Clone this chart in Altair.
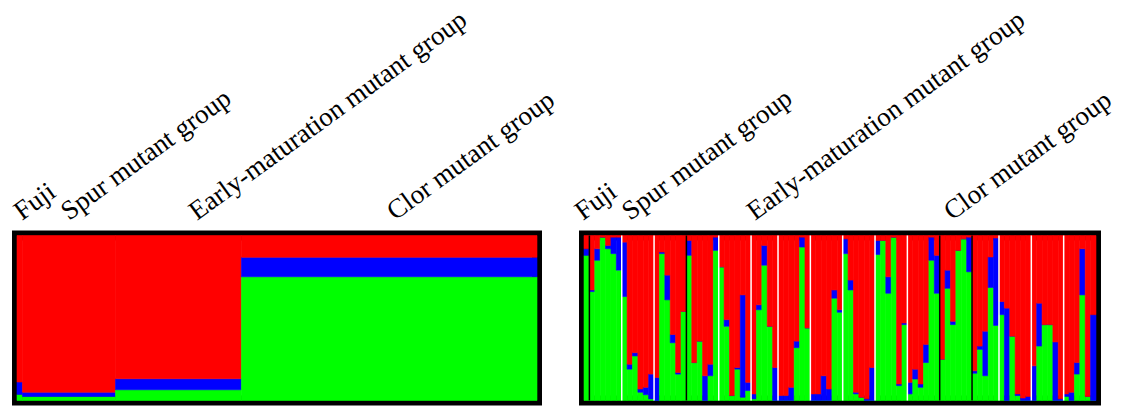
import altair as alt
import pandas as pd

# ---------------- data ----------------
groups = ["Fuji", "Spur mutant group", "Early-maturation mutant group", "Clor mutant group"]
group_sizes = [1, 17, 23, 54]
group_red = [0.888, 0.950, 0.868, 0.132]
group_blue = [0.075, 0.026, 0.067, 0.118]
group_green = [0.037, 0.024, 0.065, 0.750]

ind_red = [0.08, 0.33, 0.08, 0.01, 0.06, 0.01, 0.01, 0.04, 0.78, 0.71,
           0.93, 0.92, 0.84, 0.86, 0.10, 0.24, 0.60, 0.83, 0.46, 0.03,
           0.77, 0.64, 0.85, 0.78, 0.01, 0.19, 0.51, 0.97, 0.80, 0.36,
           0.89, 0.96, 0.42, 0.06, 0.55, 0.80, 0.97, 0.97, 0.92, 0.64,
           0.01, 0.56, 0.96, 0.96, 0.85, 0.93, 0.33, 0.45, 0.02, 0.27,
           0.95, 0.98, 0.99, 0.80, 0.03, 0.03, 0.25, 0.01, 0.90, 0.53,
           0.89, 0.81, 0.90, 0.66, 0.01, 0.12, 0.75, 0.21, 0.52, 0.09,
           0.02, 0.01, 0.82, 0.67, 0.58, 0.13, 0.015, 0.40, 0.44, 0.61,
           0.96, 0.985, 0.975, 0.79, 0.41, 0.54, 0.54, 0.645, 0.99, 0.96,
           0.95, 0.77, 0.08, 0.975, 0.48]
ind_blue = [0.04, 0.01, 0.07, 0.00, 0.02, 0.10, 0.20, 0.33, 0.03, 0.02,
            0.02, 0.045, 0.15, 0.14, 0.01, 0.15, 0.05, 0.01, 0.00, 0.09,
            0.00, 0.00, 0.15, 0.07, 0.08, 0.00, 0.04, 0.00, 0.01, 0.62,
            0.05, 0.03, 0.03, 0.12, 0.00, 0.20, 0.03, 0.03, 0.08, 0.04,
            0.06, 0.00, 0.04, 0.04, 0.15, 0.07, 0.05, 0.015, 0.09, 0.06,
            0.01, 0.00, 0.01, 0.20, 0.085, 0.00, 0.10, 0.00, 0.01, 0.01,
            0.07, 0.06, 0.02, 0.11, 0.14, 0.23, 0.00, 0.11, 0.02, 0.00,
            0.00, 0.21, 0.015, 0.02, 0.27, 0.185, 0.53, 0.08, 0.56, 0.00,
            0.01, 0.015, 0.025, 0.21, 0.26, 0.00, 0.00, 0.355, 0.01, 0.015,
            0.05, 0.07, 0.28, 0.00, 0.52]
ind_green = [0.88, 0.66, 0.85, 0.99, 0.92, 0.89, 0.79, 0.63, 0.19, 0.27,
             0.05, 0.035, 0.01, 0.00, 0.89, 0.61, 0.35, 0.16, 0.54, 0.88,
             0.23, 0.36, 0.00, 0.15, 0.91, 0.81, 0.45, 0.03, 0.19, 0.02,
             0.06, 0.01, 0.55, 0.82, 0.45, 0.00, 0.00, 0.00, 0.00, 0.32,
             0.93, 0.44, 0.00, 0.00, 0.00, 0.00, 0.62, 0.535, 0.89, 0.67,
             0.04, 0.02, 0.00, 0.00, 0.885, 0.97, 0.65, 0.99, 0.09, 0.46,
             0.04, 0.13, 0.08, 0.23, 0.85, 0.65, 0.25, 0.68, 0.46, 0.91,
             0.98, 0.78, 0.165, 0.31, 0.15, 0.685, 0.455, 0.52, 0.00, 0.39,
             0.03, 0.00, 0.00, 0.00, 0.33, 0.46, 0.46, 0.00, 0.00, 0.025,
             0.00, 0.16, 0.64, 0.025, 0.00]

separators_white = [7, 13, 25, 31, 36, 42, 48, 54, 60, 77, 83, 89]
separators_black = [1, 19, 66, 72]

components = ["green", "blue", "red"]  # bottom -> top
comp_colors = ["#00ff00", "#0000ff", "#ff0000"]

# ---------------- layout (pixels) ----------------
N = sum(group_sizes)
PAGE = 8
WL, WR, H = 555, 559, 398
L_IN = (17, 537)
R_IN = (584, 1096)
Y_TOP, Y_BOT = 235.5, 400.5
ppu_y = Y_BOT - Y_TOP
y_dom = [-(PAGE + H - Y_BOT) / ppu_y, 1 + (Y_TOP - PAGE) / ppu_y]

def x_domain(plot_left, inner, width):
    ppu = (inner[1] - inner[0]) / N
    d0 = -(inner[0] - plot_left) / ppu
    return [d0, d0 + width / ppu], ppu

left_dom, left_ppu = x_domain(PAGE, L_IN, WL)
right_dom, right_ppu = x_domain(PAGE + WL, R_IN, WR)

left_label_px = [5, 52, 180, 378]
right_label_px = [-1, 46, 171, 368]
label_y = (Y_BOT - 221) / ppu_y

# ---------------- tables ----------------
rows = []
start = 0
for g, n, r, b, gr in zip(groups, group_sizes, group_red, group_blue, group_green):
    base = 0.0
    for c, v in zip(components, [gr, b, r]):
        rows.append(dict(x=start, x2=start + n, y=base, y2=base + v, comp=c))
        base += v
    start += n
left_df = pd.DataFrame(rows)

rows = []
for i, (r, b, gr) in enumerate(zip(ind_red, ind_blue, ind_green)):
    tot = r + b + gr
    base = 0.0
    for c, v in zip(components, [gr, b, r]):
        rows.append(dict(x=i, x2=i + 1, y=base, y2=base + v / tot, comp=c))
        base += v / tot
right_df = pd.DataFrame(rows)

sep_df = pd.DataFrame(
    [dict(k=k, col="white", y=0, y2=1) for k in separators_white]
    + [dict(k=k, col="black", y=0, y2=1) for k in separators_black]
)
frame_df = pd.DataFrame([dict(x=0, x2=N, y=0, y2=1)])

left_lab = pd.DataFrame(dict(name=groups, x=[p / left_ppu for p in left_label_px], y=label_y))
right_lab = pd.DataFrame(dict(name=groups, x=[p / right_ppu for p in right_label_px], y=label_y))

color_scale = alt.Scale(domain=components, range=comp_colors)


def panel(bar_df, lab_df, dom, width, seps=None):
    xs = alt.Scale(domain=dom, nice=False, zero=False)
    ys = alt.Scale(domain=y_dom, nice=False, zero=False)
    frame = alt.Chart(frame_df).mark_rect(filled=False, stroke="black", strokeWidth=10).encode(
        x=alt.X("x:Q", scale=xs, axis=None),
        x2="x2:Q",
        y=alt.Y("y:Q", scale=ys, axis=None),
        y2="y2:Q",
    )
    bars = alt.Chart(bar_df).mark_rect(strokeWidth=0.6).encode(
        x=alt.X("x:Q", scale=xs, axis=None),
        x2="x2:Q",
        y=alt.Y("y:Q", scale=ys, axis=None),
        y2="y2:Q",
        color=alt.Color("comp:N", scale=color_scale, legend=None),
        stroke=alt.Stroke("comp:N", scale=color_scale, legend=None),
    )
    layers = [frame, bars]
    if seps is not None:
        rules = alt.Chart(seps).mark_rule(strokeWidth=1.5).encode(
            x=alt.X("k:Q", scale=xs, axis=None),
            y=alt.Y("y:Q", scale=ys, axis=None),
            y2="y2:Q",
            color=alt.Color("col:N", scale=alt.Scale(domain=["white", "black"], range=["#ffffff", "#000000"]), legend=None),
        )
        layers.append(rules)
    labels = alt.Chart(lab_df).mark_text(
        angle=324, align="left", baseline="alphabetic", clip=True,
        font="Liberation Serif", fontSize=27, color="black",
    ).encode(
        x=alt.X("x:Q", scale=xs, axis=None),
        y=alt.Y("y:Q", scale=ys, axis=None),
        text="name:N",
    )
    layers.append(labels)
    return alt.layer(*layers).resolve_scale(color="independent", stroke="independent").properties(width=width, height=H)


left = panel(left_df, left_lab, left_dom, WL)
right = panel(right_df, right_lab, right_dom, WR, sep_df)

chart = (
    alt.hconcat(left, right, spacing=0)
    .properties(padding=0, bounds="flush")
    .configure_view(stroke=None)
)

chart.save("out.html", embed_options={"renderer": "svg", "actions": False})
